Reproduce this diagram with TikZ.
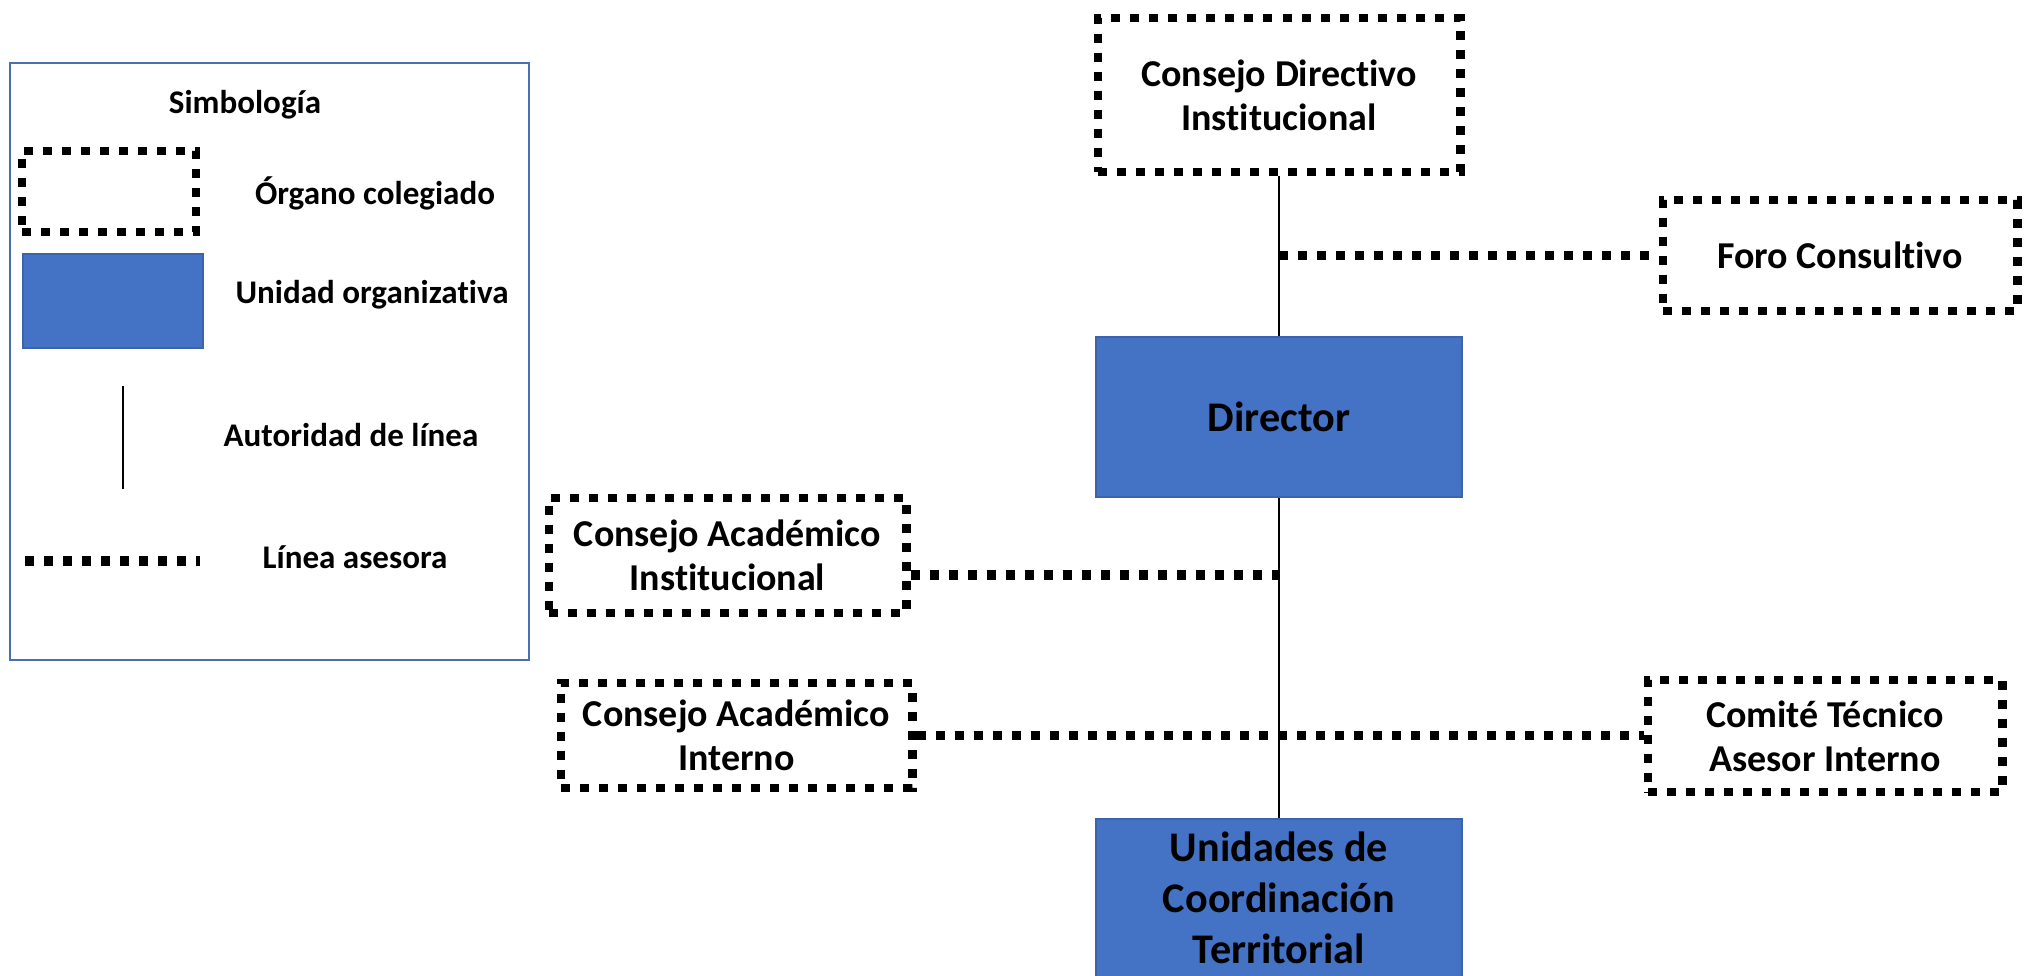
\documentclass[tikz,border=0pt]{standalone}
\usepackage{fontspec}
\setmainfont{Carlito}[Ligatures=NoCommon]
\definecolor{unitblue}{HTML}{4472C4}
\definecolor{unitedge}{HTML}{3B64AD}
\definecolor{legedge}{HTML}{4A6FB5}
\begin{document}
\begin{tikzpicture}[x=0.01cm,y=-0.01cm,
  council/.style={draw=black, line width=2.5pt, dash pattern=on 2.56pt off 2.85pt, rectangle, inner sep=0pt, align=center, font=\bfseries\fontsize{10.8}{12.6}\selectfont},
  unitbox/.style={draw=unitedge, line width=0.6pt, fill=unitblue, rectangle, inner sep=0pt, align=center, font=\bfseries\fontsize{12}{12.6}\selectfont},
  authority/.style={draw=black, line width=0.7pt},
  advice/.style={draw=black, line width=2.6pt, dash pattern=on 2.56pt off 2.85pt},
  legtext/.style={anchor=base, inner sep=0pt, font=\bfseries\fontsize{9.4}{11}\selectfont},
  legframe/.style={draw=legedge, line width=0.7pt, rectangle, inner sep=0pt}
]
\useasboundingbox (0,0) rectangle (2026,976);

% ---- legend ----
\node[legframe, minimum width=5.19cm, minimum height=5.97cm] (legend) at (269.5,361.5) {};
\node[legtext] (legtitle) at (245,113.6) {Simbología};
\node[council, minimum width=1.74cm, minimum height=0.81cm] (legorg) at (109,191.5) {};
\node[legtext] (legorgtxt) at (375,205) {Órgano colegiado};
\node[unitbox, minimum width=1.80cm, minimum height=0.94cm] (legunit) at (113,301) {};
\node[legtext] (legunittxt) at (372,303.6) {Unidad organizativa};
\coordinate (legauthA) at (123,386);
\coordinate (legauthB) at (123,489);
\draw[authority, line width=0.85pt] (legauthA) -- (legauthB);
\node[legtext] (legauthtxt) at (351,446.7) {Autoridad de línea};
\coordinate (legadvA) at (25,561);
\coordinate (legadvB) at (200,561);
\draw[advice] (legadvA) -- (legadvB);
\node[legtext] (legadvtxt) at (355,568.7) {Línea asesora};

% ---- chart ----
\node[council, minimum width=3.62cm, minimum height=1.54cm] (cdi) at (1279,95) {Consejo Directivo\\Institucional};
\node[council, minimum width=3.54cm, minimum height=1.11cm] (foro) at (1840,255.5) {Foro Consultivo};
\node[unitbox, minimum width=3.66cm, minimum height=1.60cm, font=\bfseries\fontsize{12}{14}\selectfont] (director) at (1279,417) {Director};
\node[council, minimum width=3.57cm, minimum height=1.15cm] (cai) at (727.5,555.5) {Consejo Académico\\Institucional};
\node[council, minimum width=3.51cm, minimum height=1.05cm] (cain) at (736.5,735.5) {Consejo Académico\\Interno};
\node[council, minimum width=3.54cm, minimum height=1.12cm] (comite) at (1825,736) {Comité Técnico\\Asesor Interno};
\node[unitbox, minimum width=3.66cm, minimum height=1.9cm, anchor=north] (ucoord) at (1279,818) {};
\node[align=center, inner sep=0pt, font=\bfseries\fontsize{12}{14.5}\selectfont] (ucoordtxt) at (1279,898) {Unidades de\\Coordinación\\Territorial};

\draw[authority] (cdi.south) -- (director.north);
\draw[authority] (director.south) -- (ucoord.north);
\draw[advice] (foro.west -| director.north) -- (foro.west);
\coordinate (caijoin) at (1279,575);
\draw[advice] (caijoin -| cai.east) -- (caijoin);
\draw[advice] (cain.east) -- (cain.east -| comite.west);
\end{tikzpicture}
\end{document}
